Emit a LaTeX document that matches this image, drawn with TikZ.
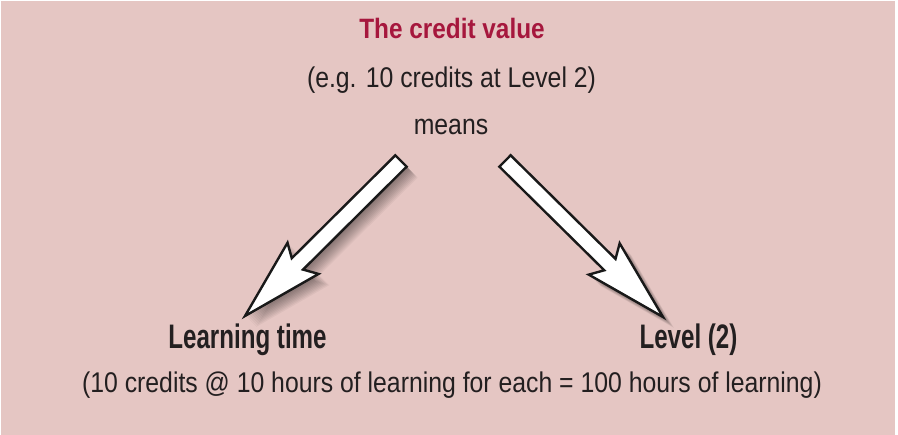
\documentclass[tikz,border=0pt]{standalone}
\usepackage{fontspec}
\setmainfont{Liberation Sans}[FakeStretch=0.87]
\newfontfamily\labelfont{Liberation Sans}[FakeStretch=0.71]
\usetikzlibrary{calc}
\definecolor{creditbg}{HTML}{E5C6C3}
\definecolor{creditred}{HTML}{A6173D}
\definecolor{textdark}{HTML}{231F20}

% outline of a block arrow, tail #1, tip #2
\newcommand{\arrowpath}[2]{%
  ($(#1)!8pt!90:(#2)$) -- ($(#1n)!8pt!90:(#2)$) -- ($(#1b)!22pt!90:(#2)$) -- (#2)
  -- ($(#1b)!22pt!-90:(#2)$) -- ($(#1n)!8pt!-90:(#2)$) -- ($(#1)!8pt!-90:(#2)$) -- cycle}
\newcommand{\blockarrow}[2]{%
  \path (#2) -- (#1) coordinate[pos=0.336] (#1n) coordinate[pos=0.372] (#1b);
  \foreach \d in {1,...,11} {
    \begin{scope}[transform canvas={xshift=\d pt, yshift=-\d pt}]
      \fill[black, opacity=0.045] \arrowpath{#1}{#2};
    \end{scope}
  }
  \draw[bigarrow] \arrowpath{#1}{#2};
}

\begin{document}
\begin{tikzpicture}[
    x=1pt, y=-1pt,
    txt/.style={anchor=base, inner sep=0pt, text=textdark,
                font=\fontsize{28.5}{34}\selectfont},
    heading/.style={anchor=base, inner sep=0pt, text=creditred,
                    font=\bfseries\fontsize{28}{34}\selectfont},
    label/.style={anchor=base, inner sep=0pt, text=textdark,
                  font=\labelfont\bfseries\fontsize{34}{40}\selectfont},
    bigarrow/.style={draw=black!90, fill=white, line width=2.4pt, line join=miter},
]
\useasboundingbox (0,0) rectangle (898,435);

% Background
\fill[creditbg] (1,1) rectangle (895,435);

% Top texts
\node[heading] (title) at (452,39) {The credit value};
\node[txt] (example) at (451.5,88) {(e.g. 10 credits at Level 2)};
\node[txt] (means) at (451,135) {means};

% Bottom texts
\node[label] (ltime) at (247.5,349) {Learning time};
\node[label] (level) at (688.5,349) {Level (2)};
\node[txt] (hours) at (452,393)
      {(10 credits @ 10 hours of learning for each = 100 hours of learning)};

% Arrows
\coordinate (lttail) at (401,161);
\coordinate (lttip) at (245,316);
\coordinate (lvtail) at (505,161);
\coordinate (lvtip) at (663,317);
\blockarrow{lttail}{lttip}
\blockarrow{lvtail}{lvtip}

\end{tikzpicture}
\end{document}
